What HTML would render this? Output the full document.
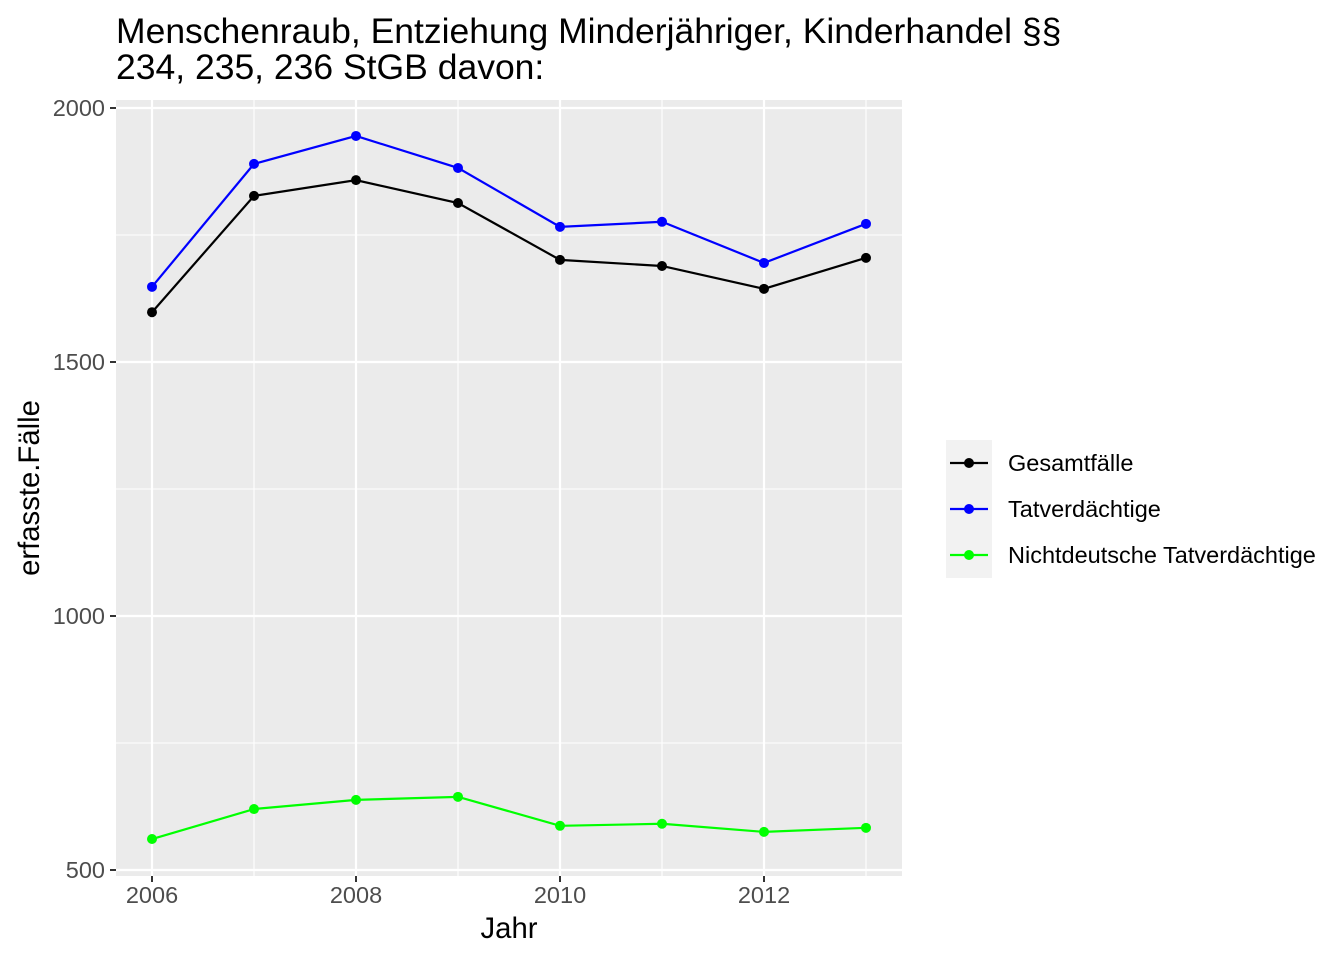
<!DOCTYPE html>
<html><head><meta charset="utf-8"><style>
body{margin:0;background:#fff;}
svg text{font-family:"Liberation Sans",sans-serif;}
</style></head><body>
<svg id="chart" width="1344" height="960" xmlns="http://www.w3.org/2000/svg">
<text x="116" y="43" font-size="35.5" fill="#000">Menschenraub, Entziehung Minderjähriger, Kinderhandel §§</text>
<text x="116" y="79" font-size="35.5" fill="#000">234, 235, 236 StGB davon:</text>
<rect x="116" y="100" width="786" height="776" fill="#ebebeb"/>
<g id="grid"></g><g id="axes"></g><g id="series"></g>
<text x="509" y="938" font-size="29.3" text-anchor="middle">Jahr</text>
<text transform="translate(39,488) rotate(-90)" font-size="29.3" text-anchor="middle">erfasste.Fälle</text>
<rect x="946" y="440" width="46" height="138" fill="#f2f2f2"/>
<g id="legend"></g>
</svg>
<script>
const years=[2006,2007,2008,2009,2010,2011,2012,2013];
const gesamt=[1598,1827,1858,1813,1701,1689,1644,1705];
const tatverd=[1648,1890,1945,1882,1766,1776,1695,1772];
const nichtdeutsch=[561,620,638,644,587,591,575,583];
const seriesNames=["Gesamtfälle","Tatverdächtige","Nichtdeutsche Tatverdächtige"];
const yTicks=[500,1000,1500,2000];
const xTicks=[2006,2008,2010,2012];
const NS="http://www.w3.org/2000/svg";
const x=v=>152+(v-2006)*102;
const y=v=>108+(2000-v)*0.508;
function mk(t,a,p){const e=document.createElementNS(NS,t);for(const k in a)e.setAttribute(k,a[k]);p.appendChild(e);return e;}
const grid=document.getElementById('grid'),axes=document.getElementById('axes'),ser=document.getElementById('series'),leg=document.getElementById('legend');
for(let i=0;i<yTicks.length-1;i++){const m=(yTicks[i]+yTicks[i+1])/2;
const l=mk('line',{x1:116,x2:902,y1:y(m),y2:y(m),stroke:'#fff','stroke-width':1.1},grid);

}
for(let yr=2007;yr<=2013;yr+=2){const l=mk('line',{x1:x(yr),x2:x(yr),y1:100,y2:876,stroke:'#fff','stroke-width':1.1},grid);

}
yTicks.forEach(v=>{const l=mk('line',{x1:116,x2:902,y1:y(v),y2:y(v),stroke:'#fff','stroke-width':2.2},grid);


const t=mk('line',{x1:110,x2:116,y1:y(v),y2:y(v),stroke:'#333','stroke-width':2},axes);


const tx=mk('text',{x:105,y:y(v)+8,'font-size':23.5,fill:'#4d4d4d','text-anchor':'end'},axes);tx.textContent=v;

});
xTicks.forEach(v=>{const l=mk('line',{x1:x(v),x2:x(v),y1:100,y2:876,stroke:'#fff','stroke-width':2.2},grid);


const t=mk('line',{x1:x(v),x2:x(v),y1:876,y2:882,stroke:'#333','stroke-width':2},axes);


const tx=mk('text',{x:x(v),y:903,'font-size':23.5,fill:'#4d4d4d','text-anchor':'middle'},axes);tx.textContent=v;

});
const data=[gesamt,tatverd,nichtdeutsch],cols=['#000','#0000ff','#00ff00'],keys=['gesamt','tatverdaechtige','nichtdeutsche'];
data.forEach((d,s)=>{const pl=mk('polyline',{points:d.map((v,i)=>x(years[i])+','+y(v)).join(' '),fill:'none',stroke:cols[s],'stroke-width':2.2},ser);


d.forEach((v,i)=>{const c=mk('circle',{cx:x(years[i]),cy:y(v),r:5,fill:cols[s]},ser);

});
const ly=463+s*46;
const ll=mk('line',{x1:950,x2:988,y1:ly,y2:ly,stroke:cols[s],'stroke-width':2.2},leg);


const lc=mk('circle',{cx:969,cy:ly,r:5,fill:cols[s]},leg);


const lt=mk('text',{x:1008,y:ly+8,'font-size':23.5,fill:'#000'},leg);lt.textContent=seriesNames[s];

});
</script>
</body></html>
